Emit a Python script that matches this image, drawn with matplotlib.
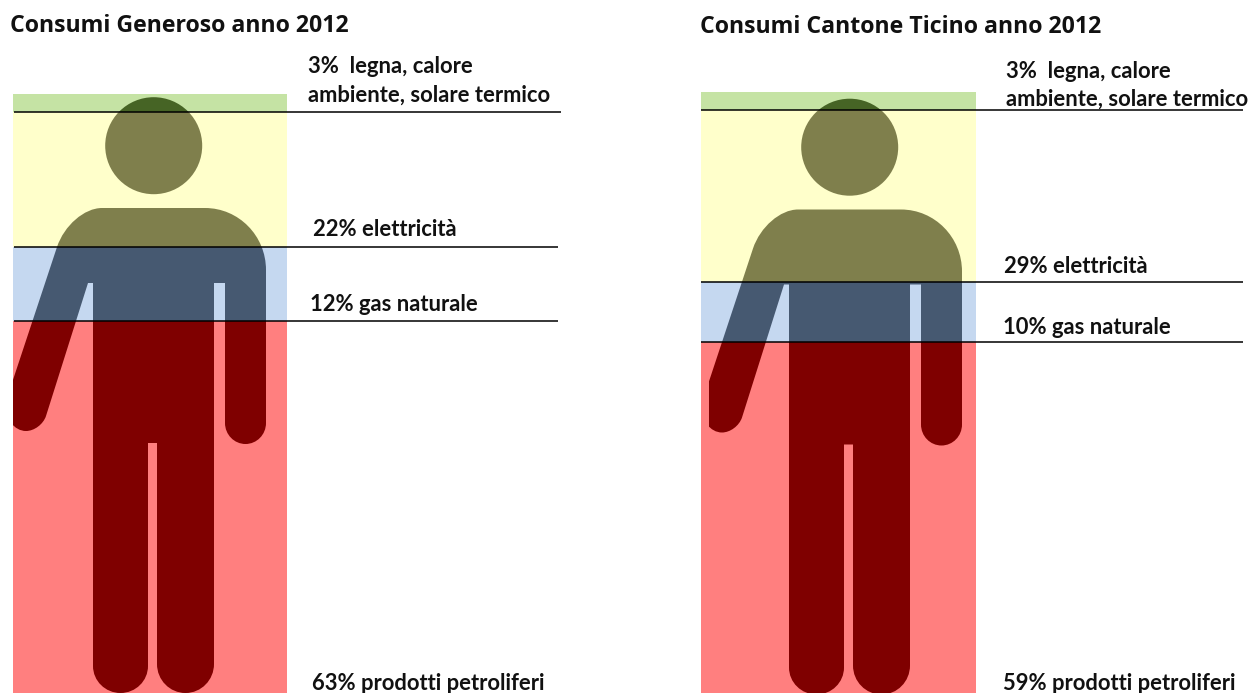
import matplotlib
matplotlib.use("Agg")
import matplotlib.pyplot as plt
from matplotlib.path import Path
from matplotlib.patches import PathPatch, Circle, Rectangle

plt.rcParams['font.family'] = ['Lato', 'DejaVu Sans']

W, H = 1253, 693

# Energy sources, stacked from the bottom upwards
sources = ["prodotti petroliferi", "gas naturale", "elettricità", "legna, calore"]
colours = ["#ff0000", "#8db2e2", "#ffff99", "#8dc94b"]
generoso = [63, 12, 22, 3]
ticino = [59, 10, 29, 3]
titles = ["Consumi Generoso anno 2012", "Consumi Cantone Ticino anno 2012"]
second_line = "ambiente, solare termico"

KAPPA = 0.5523


def person(ax, dx, dy, clip_left):
    """Black pictogram; the translucent bars on top give it its tint."""
    verts, codes = [], []

    def move(x, y):
        verts.append((x + dx, y + dy))
        codes.append(Path.MOVETO)

    def line(x, y):
        verts.append((x + dx, y + dy))
        codes.append(Path.LINETO)

    def corner(cx, cy, x, y):
        # Quarter-ellipse-like round corner from the current point to (x, y)
        px, py = verts[-1][0] - dx, verts[-1][1] - dy
        for q in ((px + KAPPA * (cx - px), py + KAPPA * (cy - py)),
                  (x + KAPPA * (cx - x), y + KAPPA * (cy - y)),
                  (x, y)):
            verts.append((q[0] + dx, q[1] + dy))
            codes.append(Path.CURVE4)

    move(102, 208)
    line(205, 208)
    corner(266, 208, 266, 270)
    line(266, 423)
    corner(266, 444, 245.5, 444)
    corner(225, 444, 225, 423)
    line(225, 283)
    line(214, 283)
    line(214, 664)
    corner(214, 693, 185.5, 693)
    corner(157, 693, 157, 664)
    line(157, 443)
    line(148, 443)
    line(148, 666)
    corner(148, 693, 120.5, 693)
    corner(93, 693, 93, 666)
    line(93, 283)
    line(88, 283)
    line(46, 416)
    corner(41, 431, 26, 431)
    corner(5, 431, 5, 404)
    line(57, 247)
    corner(70, 208, 102, 208)
    verts.append((102 + dx, 208 + dy))
    codes.append(Path.CLOSEPOLY)

    body = PathPatch(Path(verts, codes), fc="black", ec="none")
    ax.add_patch(body)
    body.set_clip_path(Rectangle((clip_left + dx, 0), 400, 800, transform=ax.transData))
    ax.add_patch(Circle((153.7 + dx, 145.7 + dy), 48.5, fc="black", ec="none"))


def panel(rect_px, bar_left, bar_width, top_px, px_per_pct, values, line_ends):
    """Stacked percentage column, cut off by the lower figure edge."""
    x0, x1 = rect_px
    ax = fig.add_axes([x0 / W, 0, (x1 - x0) / W, 1], zorder=2)
    ax.patch.set_alpha(0)
    ax.axis("off")
    ax.set_xlim(x0, x1)
    total = sum(values)
    # Percent scale: the top of the stack sits at top_px
    ax.set_ylim(total - (H - top_px) / px_per_pct, total + top_px / px_per_pct)
    base = 0
    levels = []
    for v, c in zip(values, colours):
        ax.bar(bar_left, v, width=bar_width, bottom=base, color=c, alpha=0.5,
               align="edge", linewidth=0)
        base += v
        levels.append(base)
    ax.hlines(levels[:-1], bar_left + 0.5, line_ends, color="black", lw=1.1)
    return ax


fig = plt.figure(figsize=(W / 100, H / 100), dpi=100, facecolor="white")

# Pixel-based layer for the pictograms and the annotations
base_ax = fig.add_axes([0, 0, 1, 1], zorder=1)
base_ax.set_xlim(0, W)
base_ax.set_ylim(H, 0)
base_ax.axis("off")

person(base_ax, 0, 0, 13)
person(base_ax, 696, 1.5, 13)

panel((0, 626), 13, 274, 94, 6.13, generoso, [558, 558, 561])
panel((626, W), 700.5, 275, 92, 5.95, ticino, [1243, 1243, 1243])

kw = dict(fontweight="bold", color="#111111", va="baseline", ha="left")
title_kw = dict(kw, family=["Open Sans", "DejaVu Sans"], fontsize=16.7)
label_size = 15.8

base_ax.text(10, 32, titles[0], **title_kw)
base_ax.text(700, 33, titles[1], **title_kw)

base_ax.text(308, 73, f"{generoso[3]}%  {sources[3]}", fontsize=label_size, **kw)
base_ax.text(308, 102, second_line, fontsize=label_size, **kw)
base_ax.text(313, 236, f"{generoso[2]}% {sources[2]}", fontsize=label_size, **kw)
base_ax.text(310, 311, f"{generoso[1]}% {sources[1]}", fontsize=label_size, **kw)
base_ax.text(312, 690, f"{generoso[0]}% {sources[0]}", fontsize=label_size, **kw)

base_ax.text(1006, 78, f"{ticino[3]}%  {sources[3]}", fontsize=label_size, **kw)
base_ax.text(1006, 106, second_line, fontsize=label_size, **kw)
base_ax.text(1004, 273, f"{ticino[2]}% {sources[2]}", fontsize=label_size, **kw)
base_ax.text(1003, 334, f"{ticino[1]}% {sources[1]}", fontsize=label_size, **kw)
base_ax.text(1003, 690, f"{ticino[0]}% {sources[0]}", fontsize=label_size, **kw)

fig.savefig("out.png", dpi=100)
